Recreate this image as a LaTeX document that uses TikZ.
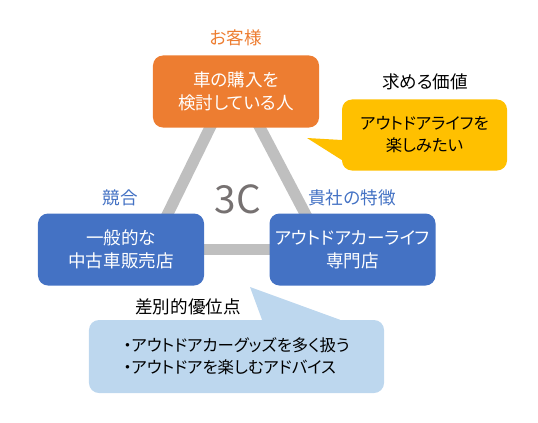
\documentclass[tikz,border=0pt]{standalone}
\usepackage{fontspec}
\setmainfont[RawFeature=+palt]{Noto Sans CJK JP}
\usetikzlibrary{positioning, calc, backgrounds}

\definecolor{custorange}{HTML}{ED7D31}
\definecolor{compblue}{HTML}{4472C4}
\definecolor{valyellow}{HTML}{FFC000}
\definecolor{advblue}{HTML}{BDD7EE}
\definecolor{bargray}{HTML}{BFBFBF}
\definecolor{cgray}{HTML}{767171}

\begin{document}
\begin{tikzpicture}[x=0.03cm, y=-0.03cm,
  cbox/.style={rectangle, rounded corners=0.3cm, text=white, align=center,
    minimum width=4.98cm, minimum height=2.16cm, font=\fontsize{15}{19.5}\selectfont},
  bubble/.style={rectangle, rounded corners=0.3cm, text=black,
    font=\fontsize{14}{18.7}\selectfont},
  tag/.style={font=\fontsize{15}{16}\selectfont},
  bar/.style={line width=0.34cm, bargray}]
\useasboundingbox (0,0) rectangle (538,422);

% Three C boxes
\node[cbox, fill=custorange] (cust) at (236,91.5) {車の購入を\\検討している人};
\node[cbox, fill=compblue] (comp) at (121,249.5) {一般的な\\中古車販売店};
\node[cbox, fill=compblue] (self) at (352.5,249.5) {アウトドアカーライフ\\専門店};

\node[tag, text=custorange] (custlbl) at (236,38) {お客様};
\node[tag, text=compblue] (complbl) at (120,198) {競合};
\node[tag, text=compblue] (selflbl) at (352,198) {貴社の特徴};
\node[text=cgray, font=\fontsize{33}{33}\selectfont] (three) at (238,199) {3C};

% Connecting bars
\begin{scope}[on background layer]
\draw[bar] ($(cust.south)+(-21.8,-8.6)$) -- ($(comp.north)+(42.8,8.6)$);
\draw[bar] ($(cust.south)+(19.5,-8.6)$) -- ($(self.north)+(-43,8.6)$);
\draw[bar] ($(comp.east)+(-8,0)$) -- ($(self.west)+(8,0)$);
\end{scope}

% Value callout
\node[bubble, fill=valyellow, align=center, minimum width=4.95cm, minimum height=2.13cm] (val) at (424.5,135) {アウトドアライフを\\楽しみたい};
\coordinate (valtip) at (307,138);
\fill[valyellow] (valtip) -- ($(val.west)+(0,5)$) -- ($(val.west)+(10,5)$) -- ($(val.west)+(10,25)$) -- ($(val.west)+(0,25)$) -- cycle;
\node[tag] (vallbl) at (425,82) {求める価値};

% Advantage callout
\node[bubble, fill=advblue, align=left, minimum width=8.85cm, minimum height=2.19cm] (adv) at (236.5,356.5) {・アウトドアカーグッズを多く扱う\\・アウトドアを楽しむアドバイス};
\coordinate (advtip) at (250,287);
\fill[advblue] (advtip) -- ($(adv.north)+(25.5,0)$) -- ($(adv.north)+(25.5,10)$) -- ($(adv.north)+(103.5,10)$) -- ($(adv.north)+(103.5,0)$) -- cycle;
\node[tag] (advlbl) at (188,307) {差別的優位点};

\end{tikzpicture}
\end{document}
